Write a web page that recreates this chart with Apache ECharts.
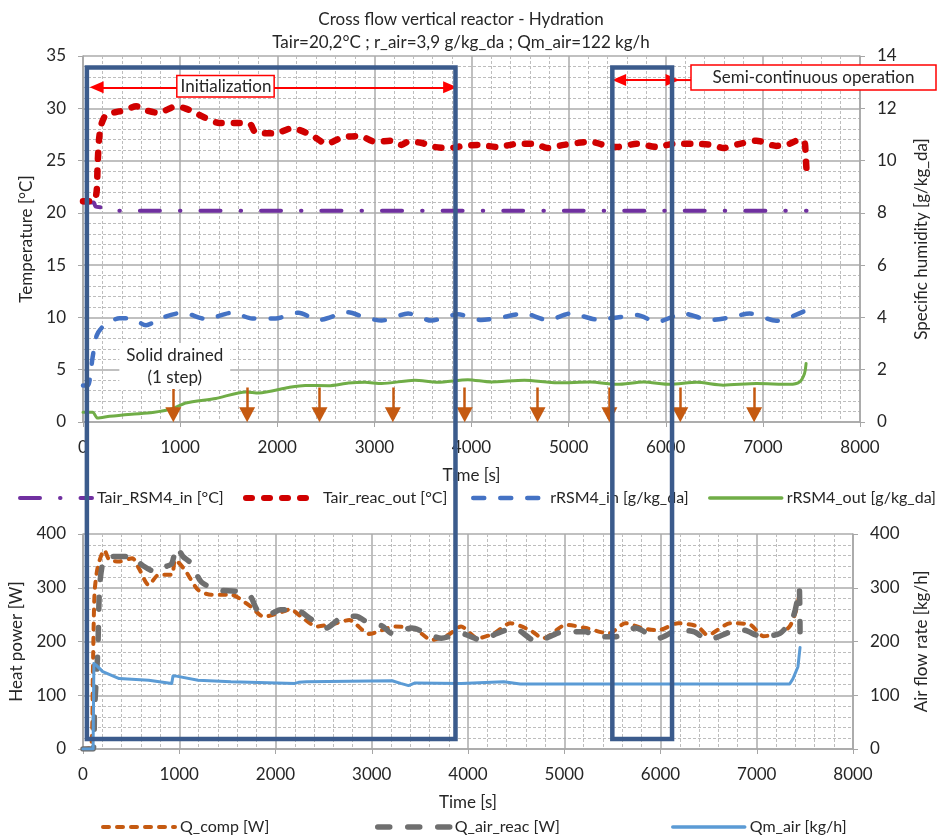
<!DOCTYPE html>
<html>
<head>
<meta charset="utf-8">
<script src="https://cdn.jsdelivr.net/npm/echarts@6/dist/echarts.min.js"></script>
<style>
html, body { margin: 0; padding: 0; background: #fff; }
#chart { width: 938px; height: 835px; }
</style>
</head>
<body>
<div id="chart"></div>
<script>
// top plot: temperature (left) and humidity (right)
var tairRsm4In = [[0, 21.0], [110, 21.0], [130, 20.6], [210, 20.5], [300, 20.2], [7450, 20.2]];
var tairReacOut = [[0, 21.1], [110, 21.1], [140, 22.0], [150, 24.5], [165, 27.0], [190, 28.5], [240, 29.4], [376, 29.7],
    [450, 29.9], [548, 30.2], [650, 29.8], [752, 29.6], [850, 29.8], [957, 30.2], [1050, 30.0], [1126, 29.7],
    [1299, 28.9], [1400, 28.6], [1606, 28.6], [1720, 28.5], [1776, 27.7], [1981, 27.6], [2152, 28.1], [2357, 27.4],
    [2511, 26.6], [2665, 27.2], [2852, 27.35], [3006, 26.8], [3177, 26.9], [3280, 26.5], [3347, 26.8], [3480, 26.7],
    [3621, 26.3], [3780, 26.2], [3911, 26.4], [4064, 26.5], [4269, 26.3], [4474, 26.6], [4645, 26.6], [4782, 26.2],
    [4952, 26.5], [5225, 26.8], [5396, 26.4], [5499, 26.3], [5704, 26.6], [5908, 26.3], [6079, 26.6], [6284, 26.6],
    [6489, 26.5], [6592, 26.2], [6762, 26.6], [6933, 26.9], [7138, 26.4], [7274, 26.6], [7377, 27.0], [7428, 26.8],
    [7440, 25.5], [7450, 24.0]];
var rRsm4In = [[0, 1.4], [50, 1.4], [100, 2.5], [140, 3.3], [205, 3.65], [376, 3.97], [512, 3.94], [649, 3.7],
    [820, 4.0], [1025, 4.18], [1264, 3.94], [1537, 4.18], [1742, 3.96], [1981, 3.96], [2220, 4.18], [2425, 3.9],
    [2732, 4.2], [2903, 4.0], [3074, 3.88], [3347, 4.15], [3586, 3.88], [3860, 4.12], [4099, 3.9], [4303, 4.0],
    [4543, 4.15], [4782, 3.9], [5021, 4.15], [5294, 3.92], [5499, 4.0], [5704, 4.09], [5908, 3.83], [6182, 4.15],
    [6455, 3.9], [6660, 4.0], [6865, 4.15], [7138, 3.87], [7274, 4.0], [7440, 4.26]];
var rRsm4Out = [[0, 0.37], [100, 0.37], [150, 0.15], [274, 0.22], [500, 0.3], [717, 0.36], [922, 0.51], [1059, 0.73],
    [1367, 0.9], [1674, 1.15], [1810, 1.11], [2117, 1.32], [2288, 1.4], [2527, 1.39], [2732, 1.49], [2903, 1.52],
    [3074, 1.47], [3416, 1.6], [3654, 1.52], [3962, 1.62], [4201, 1.53], [4543, 1.6], [4884, 1.5], [5225, 1.53],
    [5499, 1.44], [5772, 1.53], [6045, 1.44], [6318, 1.52], [6592, 1.41], [6933, 1.47], [7274, 1.44], [7377, 1.53],
    [7428, 1.85], [7445, 2.24]];

// bottom plot: heat power (left) and air flow (right)
var qComp = [[0, 0], [86, 4], [102, 135], [120, 290], [154, 339], [222, 370], [273, 352], [376, 349], [512, 355],
    [581, 336], [683, 305], [786, 324], [922, 324], [957, 352], [1059, 333], [1196, 296], [1332, 287], [1537, 287],
    [1742, 265], [1879, 246], [2084, 256], [2152, 260], [2289, 243], [2425, 228], [2630, 234], [2766, 240],
    [2971, 214], [3245, 228], [3450, 223], [3621, 203], [3791, 212], [3928, 228], [4099, 206], [4269, 215],
    [4440, 234], [4645, 221], [4782, 206], [5021, 231], [5225, 225], [5465, 215], [5636, 234], [5806, 225],
    [5977, 221], [6182, 234], [6386, 228], [6489, 212], [6728, 234], [6933, 231], [7070, 210], [7240, 215],
    [7342, 228], [7411, 259], [7445, 290]];
var qAirReac = [[0, 0], [105, 0], [120, 73], [154, 184], [171, 296], [205, 345], [273, 358], [512, 358], [615, 342],
    [752, 330], [854, 339], [922, 345], [973, 376], [1040, 358], [1126, 345], [1228, 311], [1400, 296], [1606, 293],
    [1742, 283], [1810, 259], [1947, 252], [2050, 259], [2220, 259], [2357, 243], [2527, 225], [2698, 246],
    [2835, 247], [2971, 234], [3108, 229], [3211, 215], [3416, 225], [3586, 214], [3723, 206], [3928, 215],
    [4133, 203], [4303, 215], [4474, 225], [4713, 200], [4986, 218], [5225, 218], [5328, 209], [5533, 209],
    [5738, 225], [5977, 206], [6182, 221], [6352, 218], [6489, 203], [6728, 218], [6865, 221], [7035, 210],
    [7240, 215], [7377, 246], [7428, 283], [7442, 299], [7450, 218]];
var qmAir = [[0, 0], [105, 0], [113, 159], [137, 156], [205, 144], [376, 131], [683, 128], [922, 122], [935, 136],
    [957, 136], [1196, 128], [1537, 125], [2200, 122], [2220, 119], [2240, 124], [2323, 125], [3211, 127],
    [3300, 122], [3382, 118], [3450, 123], [3928, 122], [4371, 125], [4543, 121], [7342, 121], [7377, 131],
    [7428, 153], [7450, 189]];

// annotations
var drainTimes = [930, 1690, 2435, 3190, 3930, 4680, 5420, 6150, 6910];
var initRange = [40, 3870];
var semiRange = [5450, 6120];
var boxTopTemp = 33.9;
var boxBottomPower = 18.6;

var FONT = "Lato, 'Open Sans', sans-serif";
var TXT = "#262626";

function xAxisCfg(gridIndex)
{
    return {
        type: "value", gridIndex: gridIndex, min: 0, max: 8000, interval: 1000,
        name: "Time [s]", nameLocation: "middle", nameGap: 45,
        nameTextStyle: { color: TXT, fontSize: 17, fontFamily: FONT },
        axisLine: { show: true, lineStyle: { color: "#A6A6A6", width: 1.5 } },
        axisTick: { show: true, length: 5, lineStyle: { color: "#A6A6A6" } },
        axisLabel: {
            color: TXT, fontSize: 17, fontFamily: FONT, margin: 17,
            formatter: function (v) { return String(v); }
        },
        splitLine: { show: true, lineStyle: { color: "#ABABAB", width: 1.5 } },
        minorTick: { show: false, splitNumber: 5 },
        minorSplitLine: { show: true, lineStyle: { color: "#BDBDBD", width: 1, type: [3, 2] } }
    };
}

function yAxisCfg(gridIndex, position, max, interval, name, nameGap, minor)
{
    return {
        type: "value", gridIndex: gridIndex, position: position, min: 0, max: max, interval: interval,
        name: name, nameLocation: "middle", nameGap: nameGap, nameRotate: 90,
        nameTextStyle: { color: TXT, fontSize: 17, fontFamily: FONT },
        axisLine: { show: true, lineStyle: { color: "#A6A6A6", width: 1.5 } },
        axisTick: { show: true, length: 5, lineStyle: { color: "#A6A6A6" } },
        axisLabel: { color: TXT, fontSize: 17, fontFamily: FONT, margin: 17 },
        splitLine: { show: minor, lineStyle: { color: "#ABABAB", width: 1.5 } },
        minorTick: { show: false, splitNumber: 5 },
        minorSplitLine: { show: minor, lineStyle: { color: "#BDBDBD", width: 1, type: [3, 2] } }
    };
}

function lineSeries(name, data, xi, yi, color, width, dash)
{
    return {
        name: name, type: "line", xAxisIndex: xi, yAxisIndex: yi, data: data,
        symbol: "none", smooth: 0.25,
        lineStyle: { color: color, width: width, type: dash, cap: "round", join: "round" },
        itemStyle: { color: color }
    };
}

function legendCfg(name, left, top, width)
{
    return {
        data: [name], left: left, top: top, itemWidth: 72, itemHeight: 14, itemGap: 5,
        itemStyle: { opacity: 0 },
        lineStyle: { width: width, cap: "round" },
        textStyle: { color: TXT, fontSize: 16, fontFamily: FONT },
        selectedMode: false
    };
}

var sTairIn = lineSeries("Tair_RSM4_in [°C]", tairRsm4In, 0, 0, "#7030A0", 4, [20, 20, 0.5, 20]);
var sTairOut = lineSeries("Tair_reac_out [°C]", tairReacOut, 0, 0, "#D00000", 6.5, [6, 12]);
var sRIn = lineSeries("rRSM4_in [g/kg_da]", rRsm4In, 0, 1, "#4472C4", 4.5, [11, 16]);
var sROut = lineSeries("rRSM4_out [g/kg_da]", rRsm4Out, 0, 1, "#70AD47", 3, "solid");
var sQComp = lineSeries("Q_comp [W]", qComp, 1, 2, "#C55A11", 4, [6, 8]);
var sQAir = lineSeries("Q_air_reac [W]", qAirReac, 1, 2, "#6F6F6F", 5.5, [12, 18]);
var sQm = lineSeries("Qm_air [kg/h]", qmAir, 1, 3, "#5B9BD5", 3, "solid");
sQm.smooth = false;

// red double arrows (Initialization, Semi-continuous operation)
sTairIn.markLine = {
    silent: true, animation: false,
    symbol: ["triangle", "triangle"], symbolSize: [12, 14],
    label: { show: false },
    lineStyle: { color: "#FF0000", width: 2, type: "solid" },
    itemStyle: { color: "#FF0000" },
    emphasis: { disabled: true },
    data: [
        [{ coord: [initRange[0] + 100, 32.0] }, { coord: [initRange[1] - 90, 32.0] }],
        [{ coord: [semiRange[0] + 70, 32.7] }, { coord: [semiRange[1] - 50, 32.7] }]
    ]
};

// orange "solid drained" arrows
sTairOut.markLine = {
    silent: true, animation: false,
    symbol: ["none", "triangle"], symbolSize: [16, 15],
    label: { show: false },
    lineStyle: { color: "#C55A11", width: 2.5, type: "solid" },
    itemStyle: { color: "#C55A11" },
    emphasis: { disabled: true },
    data: drainTimes.map(function (t)
    {
        return [{ coord: [t, 3.3] }, { coord: [t, 0.7] }];
    })
};

var option = {
    animation: false,
    backgroundColor: "#ffffff",
    title: {
        text: "Cross flow vertical reactor - Hydration\nTair=20,2°C ; r_air=3,9 g/kg_da ; Qm_air=122 kg/h",
        left: 456, top: 3, textAlign: "center",
        textStyle: { color: TXT, fontSize: 17, fontWeight: "normal", fontFamily: FONT, lineHeight: 23 }
    },
    grid: [
        { left: 83, top: 56, width: 781, height: 366 },
        { left: 83, top: 534, width: 781, height: 215 }
    ],
    legend: [
        legendCfg("Tair_RSM4_in [°C]", 13, 485, 4),
        legendCfg("Tair_reac_out [°C]", 238, 485, 6),
        legendCfg("rRSM4_in [g/kg_da]", 466, 485, 4.5),
        legendCfg("rRSM4_out [g/kg_da]", 703, 485, 3.5),
        legendCfg("Q_comp [W]", 96, 814, 4),
        legendCfg("Q_air_reac [W]", 370, 814, 5.5),
        legendCfg("Qm_air [kg/h]", 666, 814, 3.5)
    ],
    xAxis: [xAxisCfg(0), xAxisCfg(1)],
    yAxis: [
        yAxisCfg(0, "left", 35, 5, "Temperature [°C]", 45, true),
        yAxisCfg(0, "right", 14, 2, "Specific humidity [g/kg_da]", 53, false),
        yAxisCfg(1, "left", 400, 100, "Heat power [W]", 58, true),
        yAxisCfg(1, "right", 400, 100, "Air flow rate [kg/h]", 60, false)
    ],
    series: [sTairIn, sTairOut, sRIn, sROut, sQComp, sQAir, sQm]
};

var chart = echarts.init(document.getElementById("chart"), null, { renderer: "canvas" });
chart.setOption(option);

// frames and labels placed from data coordinates
function topPx(t, v) { return chart.convertToPixel({ xAxisIndex: 0, yAxisIndex: 0 }, [t, v]); }
function botPx(t, v) { return chart.convertToPixel({ xAxisIndex: 1, yAxisIndex: 2 }, [t, v]); }

function frame(range)
{
    var a = topPx(range[0], boxTopTemp);
    var b = botPx(range[1], boxBottomPower);
    return {
        type: "rect", z: 100,
        shape: { x: a[0], y: a[1], width: b[0] - a[0], height: b[1] - a[1] },
        style: { fill: "none", stroke: "#3B5B8C", lineWidth: 4.5 }
    };
}

var initLabel = topPx(1467, 32.1);
var drainLabel = topPx(945, 5.35);
var semiArrowEnd = topPx(semiRange[1] - 50, 32.7);
var semiBoxLeft = topPx(6260, 33.0);

chart.setOption({
    graphic: [
        frame(initRange),
        frame(semiRange),
        {
            type: "text", z: 101, x: initLabel[0], y: initLabel[1],
            style: {
                text: "Initialization", font: "17px " + FONT, fill: "#262626",
                align: "center", verticalAlign: "middle",
                backgroundColor: "#ffffff", borderColor: "#FF0000", borderWidth: 1.5, padding: [2, 2, 1, 3]
            }
        },
        {
            type: "text", z: 50, x: drainLabel[0], y: drainLabel[1],
            style: {
                text: "Solid drained\n(1 step)", font: "17px " + FONT, fill: "#262626", lineHeight: 22,
                align: "center", verticalAlign: "middle",
                backgroundColor: "#ffffff", padding: [1, 7, 1, 7]
            }
        },
        {
            type: "line", z: 60,
            shape: { x1: semiArrowEnd[0], y1: semiArrowEnd[1], x2: semiBoxLeft[0], y2: semiArrowEnd[1] },
            style: { stroke: "#FF0000", lineWidth: 2 }
        },
        {
            type: "rect", z: 101,
            shape: { x: semiBoxLeft[0], y: semiBoxLeft[1] - 12, width: 936 - semiBoxLeft[0], height: 25 },
            style: { fill: "#ffffff", stroke: "#FF0000", lineWidth: 1.5 }
        },
        {
            type: "text", z: 102, x: (semiBoxLeft[0] + 936) / 2, y: semiBoxLeft[1] + 1,
            style: {
                text: "Semi-continuous operation", font: "17px " + FONT, fill: "#262626",
                align: "center", verticalAlign: "middle"
            }
        }
    ]
});
</script>
</body>
</html>
